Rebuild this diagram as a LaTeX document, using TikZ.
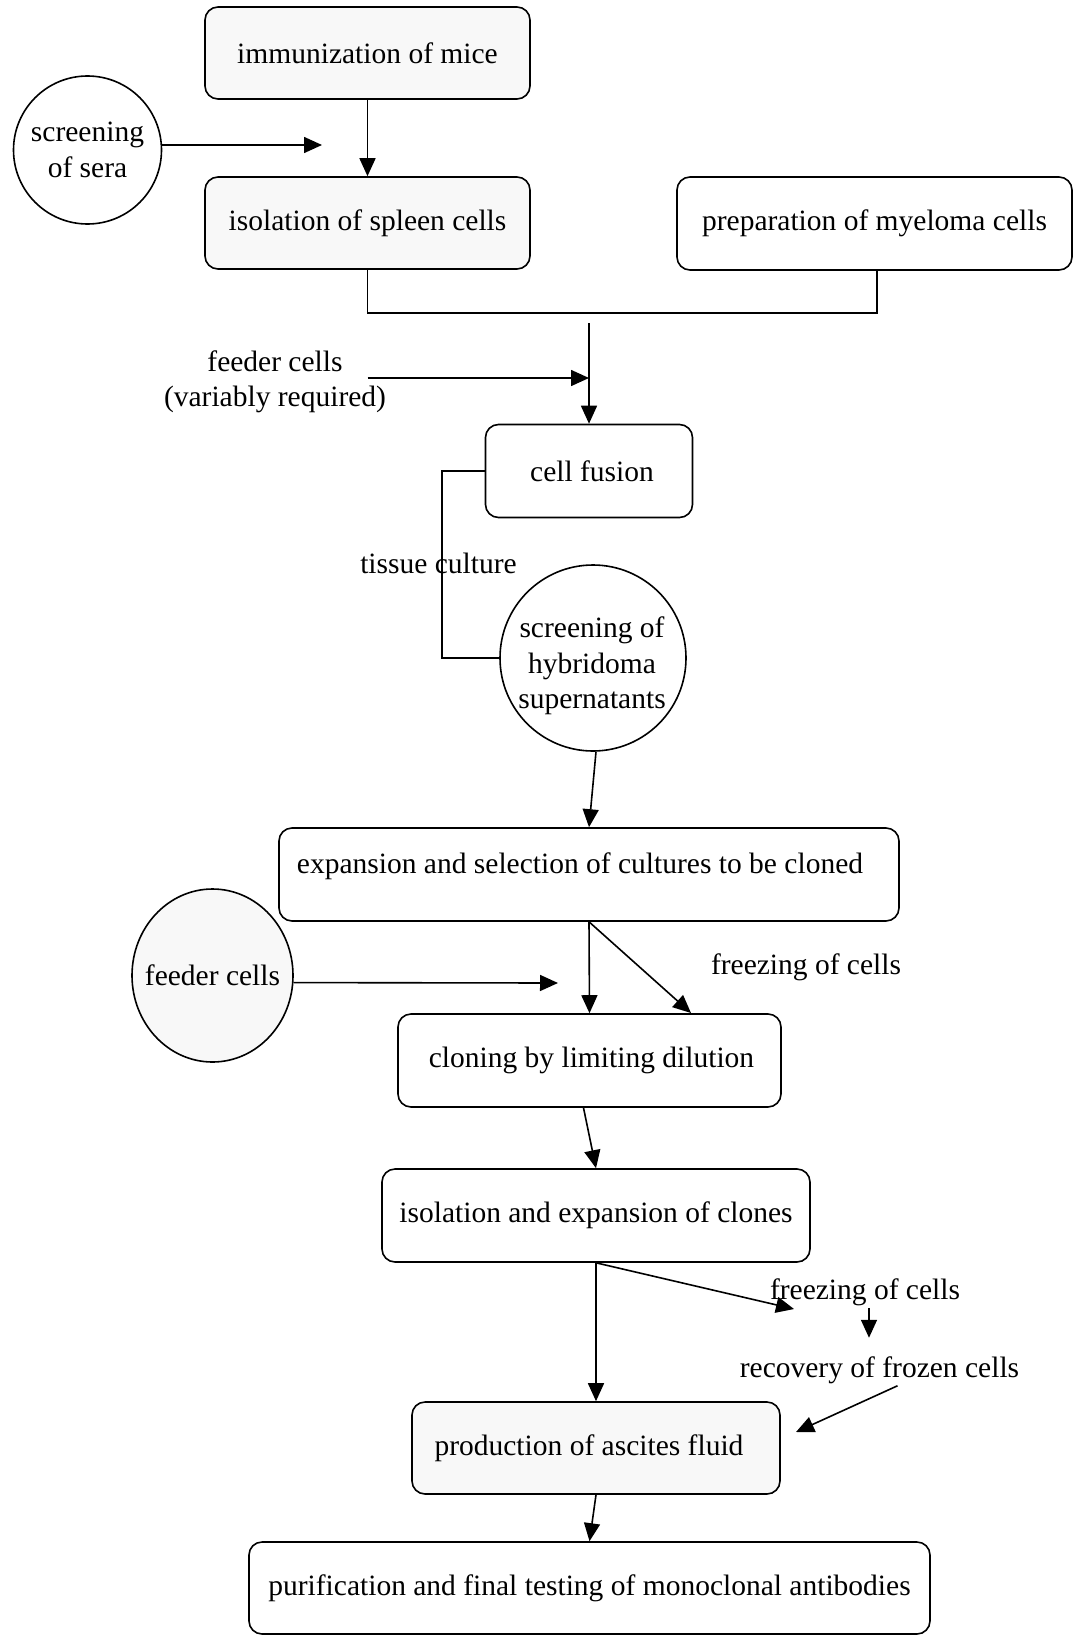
\documentclass[tikz,border=0pt]{standalone}
\usepackage{fontspec}
\setmainfont{Liberation Serif}
\usepackage{xcolor}
\usepackage{tikz}
\usetikzlibrary{shapes.geometric, arrows.meta, positioning, calc}
\definecolor{cFill}{RGB}{248,248,248}
\tikzset{
	stepbox/.style  ={rectangle, rounded corners=13pt, draw=black, line width=1.6pt, align=center, inner sep=0pt, fill=white},
	roundnode/.style={circle, draw=black, line width=1.6pt, align=center, inner sep=0pt, fill=white},
	plaintext/.style={align=center, inner sep=2pt},
	flowarrow/.style={-{Triangle[length=18pt, width=16pt]}, line width=1.6pt},
	flowline/.style ={line width=1.6pt},
}
\begin{document}
\begin{tikzpicture}[x=1pt, y=-1pt, every node/.style={font=\fontsize{29.5pt}{35.5pt}\selectfont}]
	\useasboundingbox (0,0) rectangle (1073,1635);
	% upper part
	\node[stepbox, fill=cFill, minimum width=325pt, minimum height=92pt] (immun) at (367.5,53) {immunization of mice};
	\node[stepbox, fill=cFill, minimum width=325pt, minimum height=92pt] (spleen) at (367.5,223) {isolation of spleen cells};
	\node[stepbox, minimum width=395pt, minimum height=93pt] (myeloma) at (874.5,223.5) {preparation of myeloma cells};
	\node[roundnode, minimum size=148pt] (sera) at (87.5,150) {screening\\of sera};
	\coordinate (seraend) at (322,145);
	\draw[flowarrow] (immun.south) -- (spleen.south |- spleen.north);
	\draw[flowarrow] (sera.east |- seraend) -- (seraend);
	\coordinate (join) at (589,313);
	\draw[flowline] (spleen.south) |- (join) -| ([xshift=2.5pt]myeloma.south);
	% fusion
	\node[stepbox, minimum width=207pt, minimum height=93pt] (fusion) at (589,471) {\hspace*{6pt}cell fusion};
	\node[plaintext] (feedtxt) at (275,382) {feeder cells\\(variably required)};
	\coordinate (fusetop) at (589,323);
	\coordinate (feedstart) at (367.5,378);
	\draw[flowarrow] (fusetop) -- (fusion.north);
	\draw[flowarrow] (feedstart) -- (fusetop |- feedstart);
	\node[roundnode, minimum size=186pt] (hybrid) at (593,658) {};
	\node[plaintext] (hybridtxt) at (592,666) {screening of\\hybridoma\\supernatants};
	\draw[flowline] (fusion.west) -- ++(-43,0) |- (hybrid.west);
	\node[plaintext] (tissue) at (438.5,563) {tissue culture};
	% cloning
	\node[stepbox, minimum width=620pt, minimum height=93pt, text depth=22pt] (expand) at (589,874.5) {expansion and selection of cultures to be cloned\hspace*{18pt}};
	\draw[flowarrow] ([xshift=3pt]hybrid.south) -- (expand.north);
	\node[stepbox, minimum width=383pt, minimum height=93pt] (cloning) at (589.5,1060.5) {\hspace*{4pt}cloning by limiting dilution};
	\node[ellipse, draw=black, line width=1.6pt, fill=cFill, inner xsep=-11pt, inner ysep=0pt, minimum width=161pt, minimum height=173pt] (feeder) at (212.5,975.5) {feeder cells};
	\node[plaintext] (frztxt) at (806,967) {freezing of cells};
	\coordinate (feedin) at (558,983);
	\coordinate (frzin) at (691,1013);
	\draw[flowarrow] (expand.south) -- (cloning.north);
	\draw[flowarrow] (expand.south) -- (frzin);
	\draw[flowarrow] (feeder.-5) -- (feedin);
	% clones and ascites
	\node[stepbox, minimum width=428pt, minimum height=93pt] (clones) at (596,1215.5) {isolation and expansion of clones};
	\node[stepbox, fill=cFill, minimum width=368pt, minimum height=92pt] (ascites) at (596,1448) {production of ascites fluid\hspace*{14pt}};
	\node[stepbox, minimum width=681pt, minimum height=92pt] (purif) at (589.5,1588) {purification and final testing of monoclonal antibodies};
	\draw[flowarrow] ([xshift=-6pt]cloning.south) -- (clones.north);
	\draw[flowarrow] (clones.south) -- (ascites.north);
	\node[plaintext] (frztxt2) at (865,1292) {freezing of cells};
	\node[plaintext] (recov) at (879.5,1370) {recovery of frozen cells};
	\coordinate (frzin2) at (794,1309);
	\coordinate (thawin) at (796,1432);
	\draw[flowarrow] (clones.south) -- (frzin2);
	\draw[flowarrow] ([xshift=4pt]frztxt2.south) -- ++(0,30);
	\draw[flowarrow] ([xshift=18pt]recov.south) -- (thawin);
	\draw[flowarrow] (ascites.south) -- (purif.north);
\end{tikzpicture}
\end{document}
